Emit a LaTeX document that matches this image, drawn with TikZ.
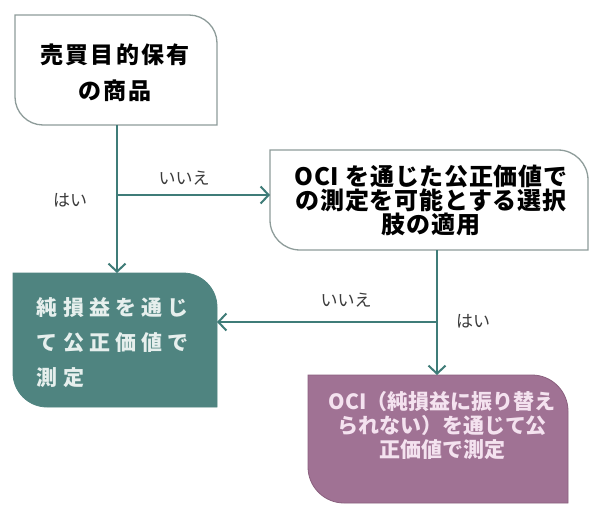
\documentclass[tikz,border=0pt]{standalone}
\usepackage{fontspec}
\setmainfont{Noto Sans CJK JP}
\usetikzlibrary{arrows.meta,calc}
\definecolor{linec}{HTML}{3F7C78}
\definecolor{bordc}{HTML}{8E9C9A}
\definecolor{tealf}{HTML}{4F8480}
\definecolor{mauvef}{HTML}{A07294}
\definecolor{mauved}{HTML}{8A607E}
\definecolor{tealtx}{HTML}{E6EFED}
\definecolor{mauvetx}{HTML}{F4E2EF}
\definecolor{labc}{HTML}{3A3A3A}
\newcommand{\leafpath}[3]{%
  \path[#3] (#1.north west) -- ($(#1.north east)+(-#2,0pt)$)
    .. controls ($(#1.north east)+(-0.45*#2,0pt)$) and ($(#1.north east)+(0pt,-0.45*#2)$) .. ($(#1.north east)+(0pt,-#2)$)
    -- (#1.south east) -- ($(#1.south west)+(#2,0pt)$)
    .. controls ($(#1.south west)+(0.45*#2,0pt)$) and ($(#1.south west)+(0pt,0.45*#2)$) .. ($(#1.south west)+(0pt,#2)$)
    -- cycle;}
\tikzset{
  boxarea/.style 2 args={rectangle, inner sep=0pt, outer sep=0pt, minimum width=#1, minimum height=#2},
  txt/.style={inner sep=0pt, outer sep=0pt},
  lab/.style={inner sep=0pt, text=labc, font=\fontsize{17}{20}\selectfont},
  conn/.style={draw=linec, line width=2.2pt},
  arr/.style={conn, -{Straight Barb[length=8pt,width=17pt,line width=2pt]}},
  whitebox/.style={fill=white, draw=bordc, line width=1.3pt},
  tealbox/.style={fill=tealf, draw=tealf, line width=0.8pt},
  mauvebox/.style={fill=mauvef, draw=mauved, line width=0.8pt}
}
\begin{document}
\begin{tikzpicture}[x=1pt,y=-1pt]
\useasboundingbox (0,0) rectangle (590,506);
\fill[white] (0,0) rectangle (590,506);
% box areas
\node[boxarea={202pt}{110pt}] (b1) at (116,70) {};
\node[boxarea={318pt}{100pt}] (b2) at (429,200) {};
\node[boxarea={204pt}{134pt}] (b3) at (115,340) {};
\node[boxarea={260pt}{128pt}] (b4) at (438,439) {};
\leafpath{b1}{28pt}{whitebox}
\leafpath{b2}{30pt}{whitebox}
\leafpath{b3}{34pt}{tealbox}
\leafpath{b4}{36pt}{mauvebox}
% texts
\node[txt, align=center, font=\fontsize{23}{36}\selectfont\bfseries\addfontfeature{LetterSpace=10}] (t1) at (115,73) {売買目的保有\\の商品};
\node[txt, align=center, font=\fontsize{24}{24}\selectfont\bfseries\addfontfeature{LetterSpace=3}] (t2) at (431,200) {OCI を通じた公正価値で\\の測定を可能とする選択\\肢の適用};
\node[txt, align=left, anchor=west, text=tealtx, font=\fontsize{21}{35}\selectfont\bfseries\addfontfeature{LetterSpace=24}] (t3) at (37,343) {純損益を通じ\\て公正価値で\\測定};
\node[txt, align=center, text=mauvetx, font=\fontsize{21}{24}\selectfont\bfseries] (t4) at (442,426) {OCI（純損益に振り替え\\られない）を通じて公\\正価値で測定};
% junctions
\coordinate (j1) at (117,195);
\coordinate (j2) at (437,322);
% connectors
\draw[arr] (j1 |- b1.south) -- (j1 |- b3.north);
\draw[arr] (j1) -- (j1 -| b2.west);
\draw[arr] (j2 |- b2.south) -- (j2 |- b4.north);
\draw[arr] (j2) -- (j2 -| b3.east);
% labels
\node[lab] (l1) at (184,178) {いいえ};
\node[lab] (l2) at (70,200) {はい};
\node[lab] (l3) at (346,300) {いいえ};
\node[lab] (l4) at (473,321) {はい};
\end{tikzpicture}
\end{document}
